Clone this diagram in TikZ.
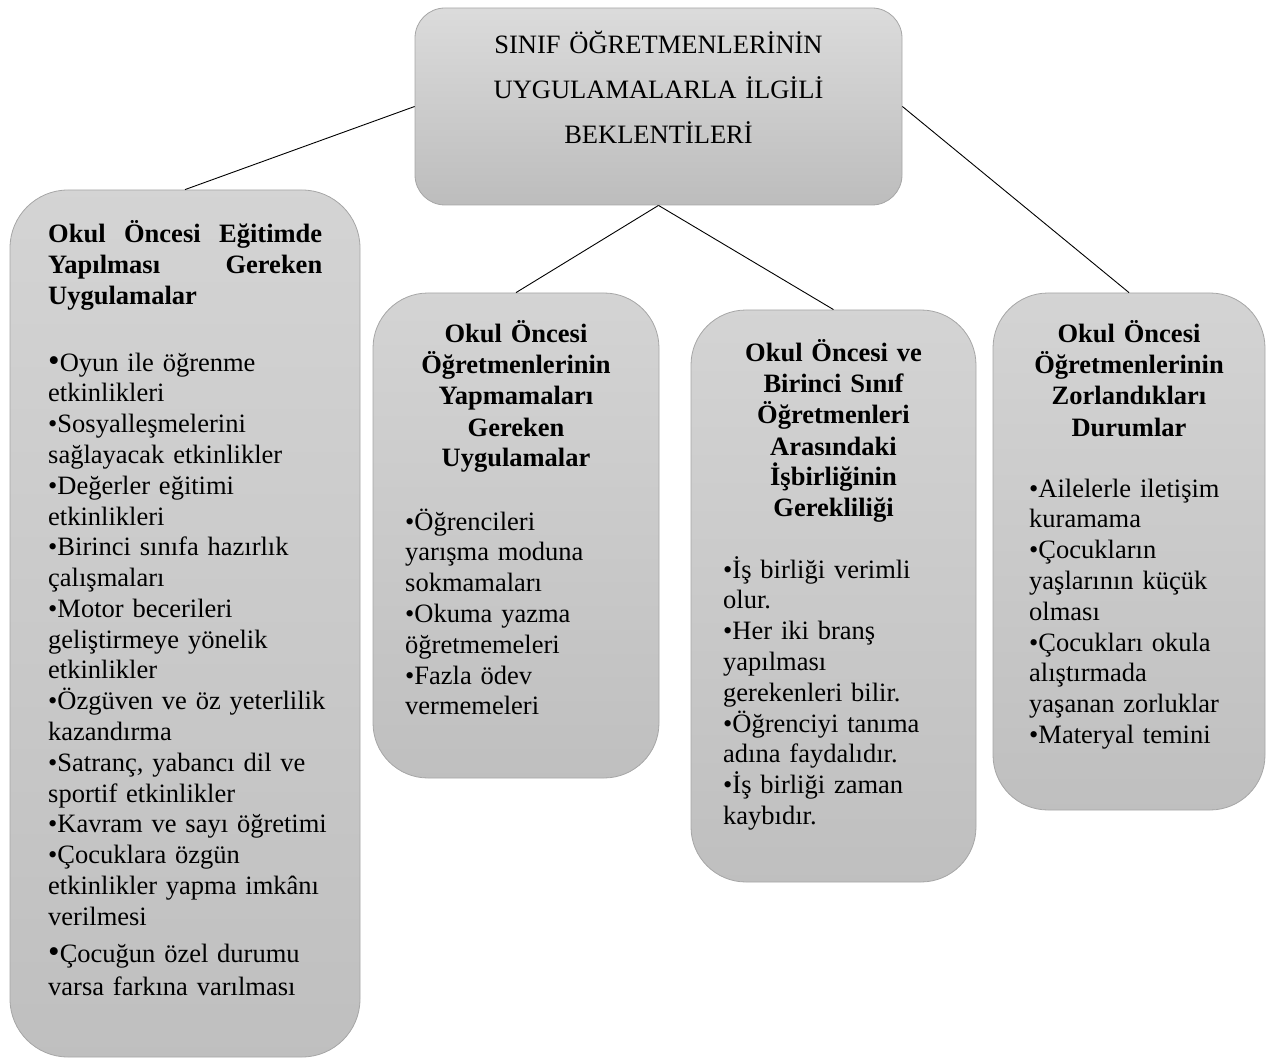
\documentclass[tikz,border=0pt]{standalone}
\usepackage{fontspec}
\setmainfont{Liberation Serif}
\begin{document}
\begin{tikzpicture}[x=1pt,y=-1pt,
  boxstyle/.style={draw=black!35, line width=0.8pt, rectangle, inner sep=0pt, top color=black!17, bottom color=black!25},
  conn/.style={draw=black, line width=0.9pt},
  headtxt/.style={inner sep=0pt, anchor=base, align=center, font=\fontsize{26.5}{31}\selectfont\bfseries},
  bodytxt/.style={inner sep=0pt, anchor=base west, align=left, font=\fontsize{26.5}{30.8}\selectfont},
  titletxt/.style={inner sep=0pt, anchor=base, align=center, font=\fontsize{26.5}{45}\selectfont}
]
\useasboundingbox (0,0) rectangle (1272,1059);
\newcommand{\bigbul}{{\fontsize{33}{30}\selectfont•}}
% boxes
\node[boxstyle, top color=black!14, bottom color=black!26, rounded corners=30pt, minimum width=487pt, minimum height=197pt] (top) at (658.5,106.5) {};
\node[boxstyle, rounded corners=58pt, minimum width=350pt, minimum height=867pt] (b1) at (185,623.5) {};
\node[boxstyle, rounded corners=55pt, minimum width=286pt, minimum height=485pt] (b2) at (516,535.5) {};
\node[boxstyle, rounded corners=55pt, minimum width=285pt, minimum height=572pt] (b3) at (833.5,596) {};
\node[boxstyle, rounded corners=55pt, minimum width=272pt, minimum height=517pt] (b4) at (1129,551.5) {};
% connectors
\draw[conn] (top.west) -- (b1.north);
\draw[conn] (top.south) -- (b2.north);
\draw[conn] (top.south) -- (b3.north);
\draw[conn] (top.east) -- (b4.north);
% title
\node[titletxt, text width=460pt] (ttl) at (658.5,54) {SINIF ÖĞRETMENLERİNİN\\UYGULAMALARLA İLGİLİ\\BEKLENTİLERİ};
% box 1
\node[bodytxt, font=\fontsize{26.5}{31}\selectfont\bfseries, text width=274pt] (h1) at (48,243) {Okul\hfill Öncesi\hfill Eğitimde\\Yapılması\hfill Gereken\\Uygulamalar};
\node[bodytxt, text width=300pt] (t1) at (48,371) {\bigbul Oyun ile öğrenme\\etkinlikleri\\•Sosyalleşmelerini\\sağlayacak etkinlikler\\•Değerler eğitimi\\etkinlikleri\\•Birinci sınıfa hazırlık\\çalışmaları\\•Motor becerileri\\geliştirmeye yönelik\\etkinlikler\\•Özgüven ve öz yeterlilik\\kazandırma\\•Satranç, yabancı dil ve\\sportif etkinlikler\\•Kavram ve sayı öğretimi\\•Çocuklara özgün\\etkinlikler yapma imkânı\\verilmesi\\[6pt]\bigbul Çocuğun özel durumu\\[3pt]varsa farkına varılması};
% box 2
\node[headtxt, text width=270pt] (h2) at (516,343) {Okul Öncesi\\Öğretmenlerinin\\Yapmamaları\\Gereken\\Uygulamalar};
\node[bodytxt, text width=240pt] (t2) at (405,530) {•Öğrencileri\\yarışma moduna\\sokmamaları\\•Okuma yazma\\öğretmemeleri\\•Fazla ödev\\vermemeleri};
% box 3
\node[headtxt, text width=270pt] (h3) at (833.5,362) {Okul Öncesi ve\\Birinci Sınıf\\Öğretmenleri\\Arasındaki\\İşbirliğinin\\Gerekliliği};
\node[bodytxt, text width=240pt] (t3) at (723,578) {•İş birliği verimli\\olur.\\•Her iki branş\\yapılması\\gerekenleri bilir.\\•Öğrenciyi tanıma\\adına faydalıdır.\\•İş birliği zaman\\kaybıdır.};
% box 4
\node[headtxt, text width=260pt] (h4) at (1129,343) {Okul Öncesi\\Öğretmenlerinin\\Zorlandıkları\\Durumlar};
\node[bodytxt, text width=230pt] (t4) at (1029,497) {•Ailelerle iletişim\\kuramama\\•Çocukların\\yaşlarının küçük\\olması\\•Çocukları okula\\alıştırmada\\yaşanan zorluklar\\•Materyal temini};
\end{tikzpicture}
\end{document}
